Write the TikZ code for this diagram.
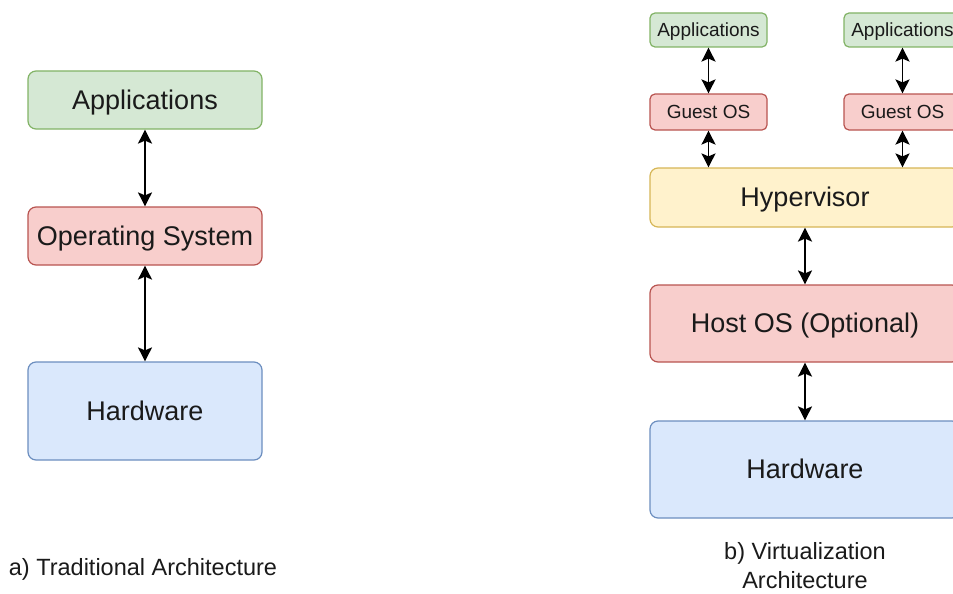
\documentclass[tikz,border=0pt]{standalone}
\usepackage{fontspec}
\setmainfont{Liberation Sans}
\usetikzlibrary{arrows.meta}
\definecolor{appfill}{HTML}{d5e8d4}
\definecolor{appline}{HTML}{82b366}
\definecolor{osfill}{HTML}{f8cecc}
\definecolor{osline}{HTML}{b85450}
\definecolor{hwfill}{HTML}{dae8fc}
\definecolor{hwline}{HTML}{6c8ebf}
\definecolor{hvfill}{HTML}{fff2cc}
\definecolor{hvline}{HTML}{d6b656}
\definecolor{txt}{HTML}{1a1a1a}

\begin{document}
\begin{tikzpicture}[x=1pt,y=-1pt,
  box/.style={draw,line width=1.2pt,rounded corners=8pt,inner sep=0pt,text=txt,
    text height=24pt,text depth=5.5pt,font=\fontsize{27}{32}\selectfont},
  smallbox/.style={box,rounded corners=5pt,text height=17pt,text depth=3.7pt,
    font=\fontsize{19}{23}\selectfont},
  link/.style={line width=1.8pt,{Stealth[length=14pt,width=14pt,inset=3pt]}-{Stealth[length=14pt,width=14pt,inset=3pt]}},
  caption/.style={text=txt,align=center,font=\fontsize{23.5}{29}\selectfont}]
  \useasboundingbox (0,0) rectangle (953,594);
  % a) traditional
  \node[box,fill=appfill,draw=appline,minimum width=234pt,minimum height=58pt] (tapp) at (145,100) {Applications};
  \node[box,fill=osfill,draw=osline,minimum width=234pt,minimum height=58pt] (tos) at (145,236) {Operating System};
  \node[box,fill=hwfill,draw=hwline,minimum width=234pt,minimum height=98pt] (thw) at (145,411) {Hardware};
  \draw[link] (tapp) -- (tos);
  \draw[link] (tos) -- (thw);
  \node[caption] (tcap) at (143,569) {a) Traditional Architecture};
  % b) virtualization
  \node[smallbox,fill=appfill,draw=appline,minimum width=117pt,minimum height=34pt] (vappa) at (708.5,30) {Applications};
  \node[smallbox,fill=appfill,draw=appline,minimum width=117pt,minimum height=34pt] (vappb) at (902.5,30) {Applications};
  \node[smallbox,fill=osfill,draw=osline,minimum width=117pt,minimum height=36pt] (guesta) at (708.5,112) {Guest OS};
  \node[smallbox,fill=osfill,draw=osline,minimum width=117pt,minimum height=36pt] (guestb) at (902.5,112) {Guest OS};
  \node[box,fill=hvfill,draw=hvline,minimum width=310pt,minimum height=59pt] (hyp) at (805,197.5) {Hypervisor};
  \node[box,fill=osfill,draw=osline,minimum width=310pt,minimum height=77pt] (host) at (805,323.5) {Host OS (Optional)};
  \node[box,fill=hwfill,draw=hwline,minimum width=310pt,minimum height=97pt] (vhw) at (805,469.5) {Hardware};
  \draw[link] (vappa) -- (guesta);
  \draw[link] (vappb) -- (guestb);
  \draw[link] (guesta) -- (guesta |- hyp.north);
  \draw[link] (guestb) -- (guestb |- hyp.north);
  \draw[link] (hyp) -- (host);
  \draw[link] (host) -- (vhw);
  \node[caption] (vcap) at (805,566) {b) Virtualization\\Architecture};
\end{tikzpicture}
\end{document}
